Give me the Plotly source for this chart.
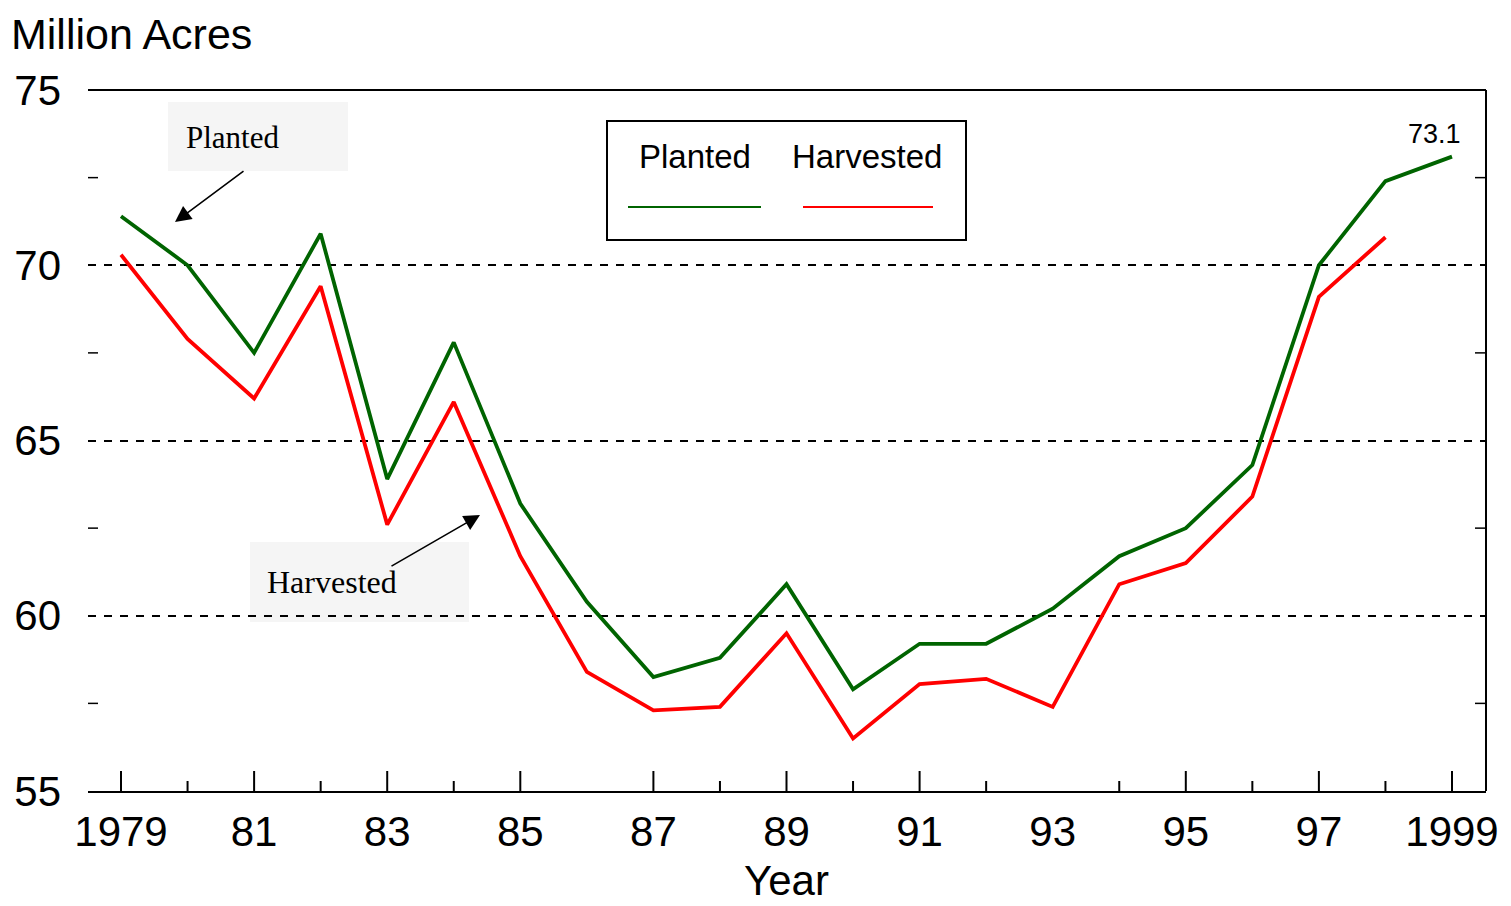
import plotly.graph_objects as go

years = list(range(1979, 2000))
planted = [71.4, 70.0, 67.5, 70.9, 63.9, 67.8, 63.2, 60.4, 58.25, 58.8, 60.9,
           57.9, 59.2, 59.2, 60.2, 61.7, 62.5, 64.3, 70.0, 72.4, 73.1]
harvest_years = list(range(1979, 1999))
harvested = [70.3, 67.9, 66.2, 69.4, 62.6, 66.1, 61.7, 58.4, 57.3, 57.4, 59.5,
             56.5, 58.05, 58.2, 57.4, 60.9, 61.5, 63.4, 69.1, 70.8]

label_years = [1979, 1981, 1983, 1985, 1987, 1989, 1991, 1993, 1995, 1997, 1999]
label_text = ["1979", "81", "83", "85", "87", "89", "91", "93", "95", "97", "1999"]
long_tick_years = [1979, 1981, 1983, 1985, 1987, 1989, 1991, 1995, 1997, 1999]
short_tick_years = [1980, 1982, 1984, 1988, 1990, 1992, 1994, 1996, 1998]
y_ticks = [55, 60, 65, 70, 75]
y_minor = [57.5, 62.5, 67.5, 72.5]

GREEN = "#006400"
RED = "#ff0000"
FONT = "Liberation Sans, Arial, sans-serif"
SERIF = "Liberation Serif, Times New Roman, serif"

OFF = 8  # page body margin
W, H = 1503, 898
# plot area in screen pixels: x 88..1486, y 90..791
L, T = 88 - OFF, 90 - OFF
R = W - (1486 - OFF)
B = H - (791 - OFF)
PW, PH = W - L - R, H - T - B


def px(x):
    return (x - OFF - L) / PW


def py(y):
    return (H - B - (y - OFF)) / PH


fig = go.Figure()
fig.add_trace(go.Scatter(x=years, y=planted, mode="lines", name="Planted",
                         line=dict(color=GREEN, width=3.8)))
fig.add_trace(go.Scatter(x=harvest_years, y=harvested, mode="lines", name="Harvested",
                         line=dict(color=RED, width=3.8)))

shapes = []
shapes.append(dict(type="line", xref="paper", yref="paper", x0=0, x1=1, y0=1, y1=1,
                   line=dict(color="black", width=2)))
shapes.append(dict(type="line", xref="paper", yref="paper", x0=1, x1=1, y0=0, y1=1,
                   line=dict(color="black", width=2)))
for yr in long_tick_years:
    shapes.append(dict(type="line", xref="x", yref="paper", x0=yr, x1=yr,
                       y0=0, y1=20 / PH, line=dict(color="black", width=2)))
for yr in short_tick_years:
    shapes.append(dict(type="line", xref="x", yref="paper", x0=yr, x1=yr,
                       y0=0, y1=10 / PH, line=dict(color="black", width=2)))
for v in y_minor:
    shapes.append(dict(type="line", xref="paper", yref="y", x0=0, x1=10 / PW,
                       y0=v, y1=v, line=dict(color="black", width=1.5)))
    shapes.append(dict(type="line", xref="paper", yref="y", x0=1 - 11 / PW, x1=1,
                       y0=v, y1=v, line=dict(color="black", width=1.5)))
shapes.append(dict(type="rect", xref="paper", yref="paper", x0=px(168), x1=px(348),
                   y0=py(171), y1=py(102), fillcolor="#f5f5f5", line=dict(width=0), layer="below"))
shapes.append(dict(type="rect", xref="paper", yref="paper", x0=px(250), x1=px(469),
                   y0=py(622), y1=py(542), fillcolor="#f5f5f5", line=dict(width=0), layer="below"))
shapes.append(dict(type="rect", xref="paper", yref="paper", x0=px(607), x1=px(966),
                   y0=py(240), y1=py(121), fillcolor="white", line=dict(color="black", width=2)))
shapes.append(dict(type="line", xref="paper", yref="paper", x0=px(628), x1=px(761),
                   y0=py(207), y1=py(207), line=dict(color=GREEN, width=2)))
shapes.append(dict(type="line", xref="paper", yref="paper", x0=px(803), x1=px(933),
                   y0=py(207), y1=py(207), line=dict(color=RED, width=2)))

annotations = []
annotations.append(dict(text="Million Acres", xref="paper", yref="paper", x=px(9), y=py(8),
                        xanchor="left", yanchor="top", showarrow=False,
                        font=dict(family=FONT, size=43, color="black")))
annotations.append(dict(text="Year", xref="paper", yref="paper", x=px(786), y=py(880),
                        xanchor="center", yanchor="middle", showarrow=False,
                        font=dict(family=FONT, size=42, color="black")))
annotations.append(dict(text="73.1", xref="x", yref="y", x=years[-1], y=planted[-1],
                        xshift=-17, yshift=23, showarrow=False,
                        font=dict(family=FONT, size=27, color="black")))
annotations.append(dict(text="Planted", xref="paper", yref="paper", x=px(184), y=py(137),
                        xanchor="left", yanchor="middle", showarrow=False,
                        font=dict(family=SERIF, size=31, color="black")))
annotations.append(dict(text="Harvested", xref="paper", yref="paper", x=px(265), y=py(582),
                        xanchor="left", yanchor="middle", showarrow=False,
                        font=dict(family=SERIF, size=32, color="black")))
annotations.append(dict(text="", xref="paper", yref="paper", x=px(175), y=py(222),
                        ax=70, ay=-52, showarrow=True, arrowhead=2, arrowsize=2,
                        arrowwidth=1.6, arrowcolor="black"))
annotations.append(dict(text="", xref="paper", yref="paper", x=px(480), y=py(515),
                        ax=-90, ay=52, showarrow=True, arrowhead=2, arrowsize=2,
                        arrowwidth=1.6, arrowcolor="black"))
annotations.append(dict(text="Planted", xref="paper", yref="paper", x=px(695), y=py(156),
                        xanchor="center", yanchor="middle", showarrow=False,
                        font=dict(family=FONT, size=33, color="black")))
annotations.append(dict(text="Harvested", xref="paper", yref="paper", x=px(867), y=py(156),
                        xanchor="center", yanchor="middle", showarrow=False,
                        font=dict(family=FONT, size=33, color="black")))

fig.update_layout(
    width=W, height=H,
    margin=dict(l=L, r=R, t=T, b=B, pad=0, autoexpand=False),
    paper_bgcolor="white", plot_bgcolor="white",
    showlegend=False,
    shapes=shapes, annotations=annotations,
    xaxis=dict(range=[1978.504, 1999.511], tickvals=label_years, ticktext=label_text,
               ticks="", showgrid=False, zeroline=False, showline=True, automargin=False,
               linecolor="black", linewidth=2, ticklabelstandoff=3,
               tickfont=dict(family=FONT, size=42, color="black")),
    yaxis=dict(range=[55, 75], tickvals=y_ticks, ticks="", showline=False, zeroline=False,
               showgrid=True, gridcolor="black", gridwidth=1.5, griddash="8px,8px",
               ticklabelstandoff=26, automargin=False,
               tickfont=dict(family=FONT, size=42, color="black")),
)

fig.write_html("out.html")
